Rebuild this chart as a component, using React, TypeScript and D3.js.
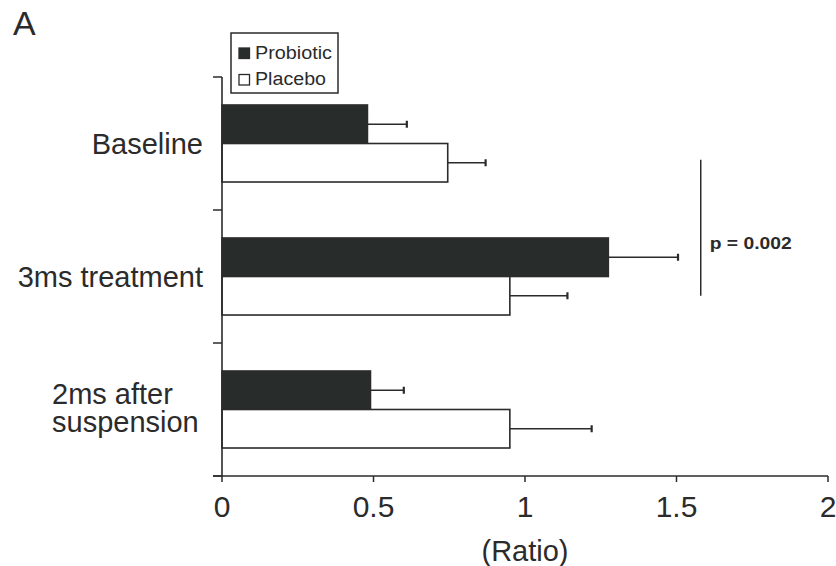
import React from 'react';
import * as d3 from 'd3';

const categories = ['Baseline', '3ms treatment', '2ms after suspension'];
const categoryLines = [['Baseline'], ['3ms treatment'], ['2ms after', 'suspension']];
const seriesNames = ['Probiotic', 'Placebo'];
const probioticMean = [0.48, 1.275, 0.49];
const probioticErr = [0.13, 0.23, 0.11];
const placeboMean = [0.745, 0.95, 0.95];
const placeboErr = [0.125, 0.19, 0.27];
const xTicks = [0, 0.5, 1, 1.5, 2];
const xTickLabels = ['0', '0.5', '1', '1.5', '2'];
const pValueLabel = 'p = 0.002';
const pBracketAt = 1.58;

const W = 836;
const H = 566;
const FONT = '"Liberation Sans", Arial, Helvetica, sans-serif';
const INK = '#2b2b2b';
const DARK = '#282d2b';

export default function App() {
  const x = d3.scaleLinear().domain([0, 2]).range([222, 828]);
  const y = d3.scaleBand<string>().domain(categories).range([77, 476]).padding(0);
  const inner = d3.scaleBand<string>().domain(seriesNames).range([0, y.bandwidth()])
    .paddingInner(0).paddingOuter(0.727);
  const bw = inner.bandwidth();

  const series = [
    { name: 'Probiotic', mean: probioticMean, err: probioticErr, fill: DARK },
    { name: 'Placebo', mean: placeboMean, err: placeboErr, fill: '#ffffff' },
  ];

  const yTicks = [...categories.map(c => y(c) as number), y.range()[1]];
  const x0 = x(0);
  const axisY = y.range()[1];

  const placeboMid = (i: number) => (y(categories[i]) as number) + (inner('Placebo') as number) + bw / 2;
  const bx = x(pBracketAt);
  const bTop = placeboMid(0);
  const bBot = placeboMid(1);

  return (
    <svg width={W} height={H} style={{ position: 'fixed', left: 0, top: 0, background: '#fff' }}
      fontFamily={FONT}>
      <rect width={W} height={H} fill="#fff" />
      <text x={13} y={35} fontSize={34} fill={INK}>A</text>

      {/* bars */}
      {series.map(s => categories.map((c, i) => {
        const top = (y(c) as number) + (inner(s.name) as number);
        const xe = x(s.mean[i]);
        const xr = x(s.mean[i] + s.err[i]);
        const cy = top + bw / 2;
        return (
          <g key={s.name + c}>
            <line x1={xe} x2={xr} y1={cy} y2={cy} stroke={INK} strokeWidth={1.5} />
            <line x1={xr} x2={xr} y1={cy - 3.5} y2={cy + 3.5} stroke={INK} strokeWidth={2.2} />
            <rect x={x0} y={top} width={xe - x0} height={bw} fill={s.fill} stroke={INK} strokeWidth={1.6} />
          </g>
        );
      }))}

      {/* y axis */}
      <line x1={x0} x2={x0} y1={y.range()[0]} y2={axisY} stroke={INK} strokeWidth={1.6} />
      {yTicks.map((t, i) => (
        <line key={i} x1={x0 - 9} x2={x0} y1={t} y2={t} stroke={INK} strokeWidth={1.5} />
      ))}
      {categoryLines.map((lines, i) => {
        const cy = (y(categories[i]) as number) + y.bandwidth() / 2;
        if (lines.length === 1) {
          return (
            <text key={i} x={203} y={cy} dy="0.35em" textAnchor="end" fontSize={29} fill={INK}>{lines[0]}</text>
          );
        }
        return (
          <text key={i} x={52} y={cy - 6} fontSize={29} fill={INK}>
            {lines.map((l, j) => (
              <tspan key={j} x={52} dy={j === 0 ? 0 : 28}>{l}</tspan>
            ))}
          </text>
        );
      })}

      {/* x axis */}
      <line x1={x0 - 9} x2={x(2)} y1={axisY} y2={axisY} stroke={INK} strokeWidth={1.6} />
      {xTicks.map((t, i) => (
        <g key={t}>
          <line x1={x(t)} x2={x(t)} y1={axisY} y2={axisY + 6} stroke={INK} strokeWidth={1.5} />
          <text x={x(t)} y={517} textAnchor="middle" fontSize={30} fill={INK}>{xTickLabels[i]}</text>
        </g>
      ))}
      <text x={x(1)} y={561} textAnchor="middle" fontSize={29} fill={INK}>(Ratio)</text>

      {/* significance */}
      <line x1={bx} x2={bx} y1={bTop - 3} y2={bBot} stroke={INK} strokeWidth={1.5} />
      <text x={bx + 9} y={(bTop + bBot) / 2 + 20} fontSize={17} fontWeight="bold" fill={INK}
        textLength={82} lengthAdjust="spacingAndGlyphs">{pValueLabel}</text>

      {/* legend */}
      <rect x={231} y={33} width={107} height={60} fill="#fff" stroke={INK} strokeWidth={1.5} />
      {series.map((s, i) => (
        <g key={s.name} transform={`translate(239,${48 + i * 26.5})`}>
          <rect x={0} y={0} width={10.5} height={10.5} fill={s.fill} stroke={INK} strokeWidth={1.3} />
          <text x={16} y={10.5} fontSize={18} fill={INK} textLength={i === 0 ? 77 : 71}
            lengthAdjust="spacingAndGlyphs">{s.name}</text>
        </g>
      ))}
    </svg>
  );
}
